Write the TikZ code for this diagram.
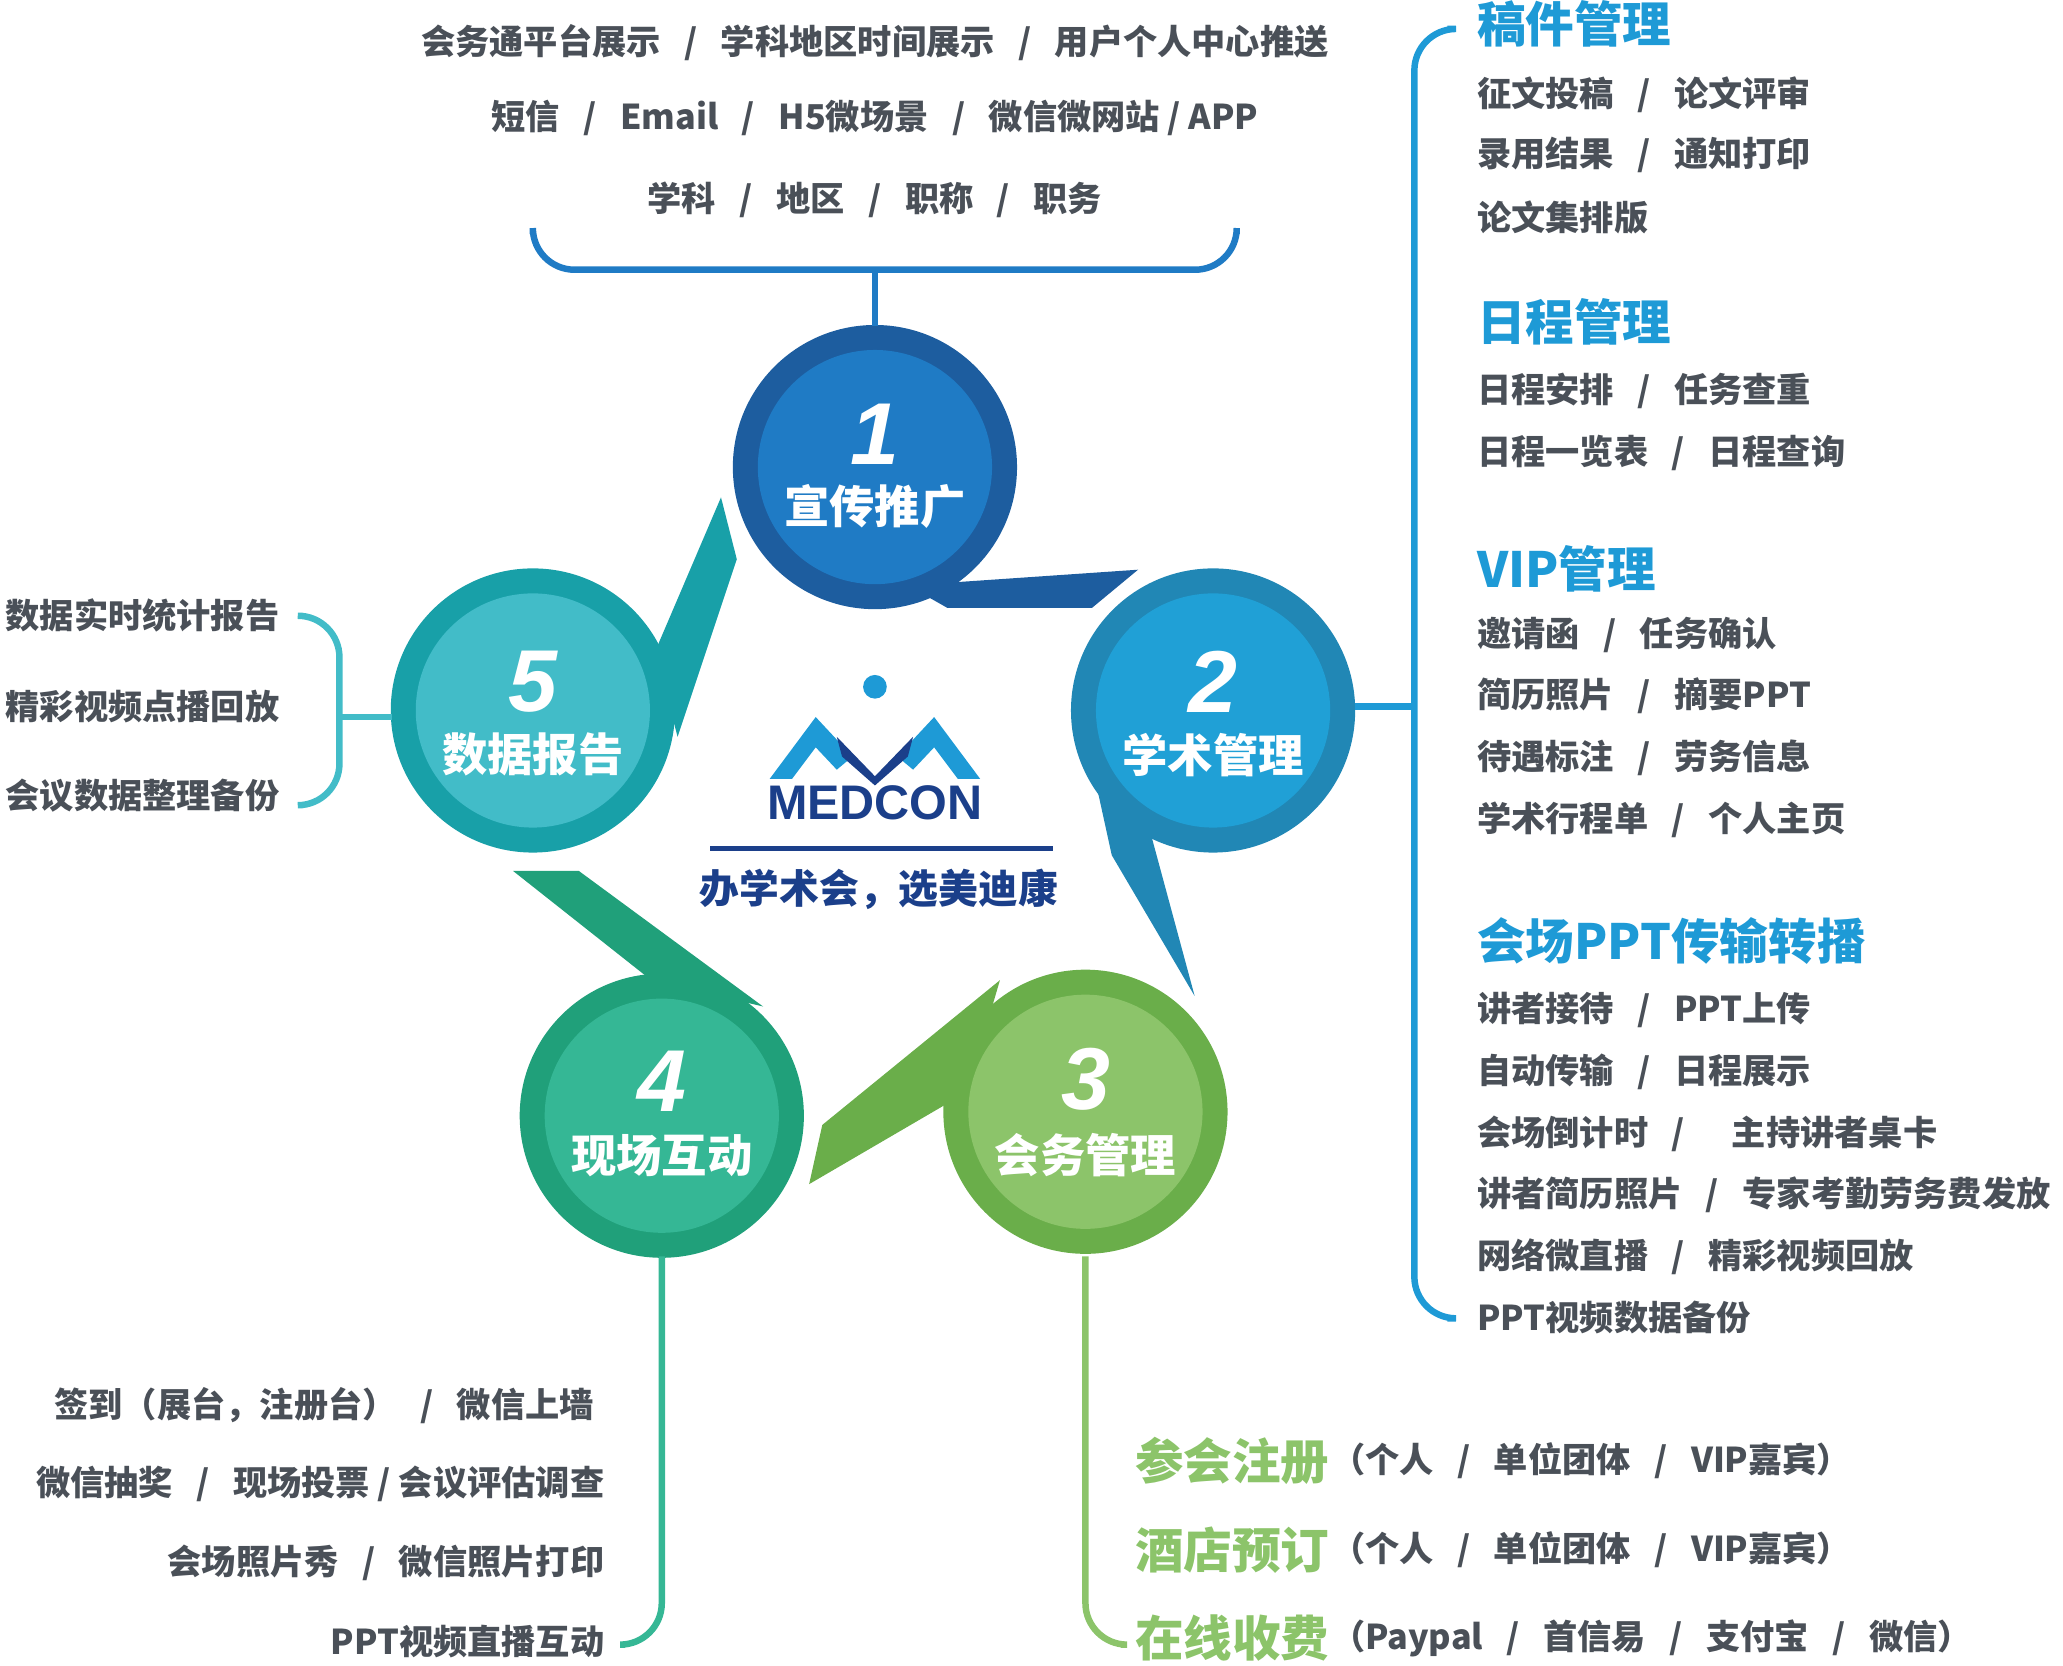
\documentclass[tikz,border=0pt]{standalone}
\usepackage{fontspec}
\setmainfont{Noto Sans CJK SC}
\newfontfamily\numfont{Liberation Sans}
\usetikzlibrary{positioning}
\definecolor{textgray}{HTML}{4A5058}
\definecolor{navy}{HTML}{1B3F8A}
\definecolor{oneout}{HTML}{1D5D9F}\definecolor{onein}{HTML}{1F7BC5}
\definecolor{twoout}{HTML}{2187B5}\definecolor{twoin}{HTML}{20A0D6}
\definecolor{threeout}{HTML}{6AAE4A}\definecolor{threein}{HTML}{8CC46A}
\definecolor{fourout}{HTML}{20A07A}\definecolor{fourin}{HTML}{35B795}
\definecolor{fiveout}{HTML}{18A0A8}\definecolor{fivein}{HTML}{42BCC8}
\definecolor{brace}{HTML}{1E9AD6}
\newcommand\sep{\ \ \ /\ \ \ }
\tikzset{
  item/.style={text=textgray,font=\fontsize{7.4}{9}\selectfont\bfseries,inner sep=0pt},
  head/.style={text=brace,font=\fontsize{10.5}{12}\selectfont\bfseries,inner sep=0pt,anchor=west},
  greenhead/.style={text=threein,font=\fontsize{10.5}{12}\selectfont\bfseries,inner sep=0pt,anchor=west},
  title/.style={text=white,font=\fontsize{9.8}{11}\selectfont\bfseries,inner sep=0pt},
  number/.style={text=white,font=\fontsize{19}{20}\selectfont\numfont\bfseries\itshape,inner sep=0pt},
  bracket/.style={line width=1.4pt,rounded corners=9pt},
}
\begin{document}
\begin{tikzpicture}[x=0.1mm,y=-0.1mm]
  \useasboundingbox (0,0) rectangle (1568,1266);
  % tails
  \fill[oneout] (690,445) -- (865,433) -- (830,462) -- (720,462) -- cycle;
  \fill[twoout] (822,545) -- (875,635) -- (908,757) -- (845,650) -- cycle;
  \fill[threeout] (760,745) -- (625,855) -- (615,900) -- (735,830) -- cycle;
  \fill[fourout] (390,662) -- (440,662) -- (580,765) -- (495,745) -- cycle;
  \fill[fiveout] (498,495) -- (548,378) -- (560,425) -- (515,560) -- cycle;
  % circles
  \foreach \n/\cx/\cy/\co/\ci in {one/665/355/oneout/onein, two/922/540/twoout/twoin,
      three/825/845/threeout/threein, four/503/848/fourout/fourin, five/405/540/fiveout/fivein}{
    \fill[\co] (\cx,\cy) circle (108);
    \fill[\ci] (\cx,\cy) circle (89);
    \coordinate (\n) at (\cx,\cy);
  }
  \node[number] (n1) at (665,330) {1};
  \node[title] (t1) at (665,385) {宣传推广};
  \node[number] (n2) at (922,518) {2};
  \node[title] (t2) at (922,574) {学术管理};
  \node[number] (n3) at (825,820) {3};
  \node[title] (t3) at (825,878) {会务管理};
  \node[number] (n4) at (503,822) {4};
  \node[title] (t4) at (503,878) {现场互动};
  \node[number] (n5) at (405,518) {5};
  \node[title] (t5) at (405,573) {数据报告};
  % logo
  \fill[brace] (665,522) circle (9);
  \fill[brace] (585,592) -- (620,545) -- (648,575) -- (636,585) -- (620,568) -- (602,592) -- cycle;
  \fill[brace] (745,592) -- (710,545) -- (682,575) -- (694,585) -- (710,568) -- (728,592) -- cycle;
  \fill[navy] (636,560) -- (665,590) -- (694,560) -- (690,575) -- (665,597) -- (640,575) -- cycle;
  \node[text=navy,font=\fontsize{10.5}{12}\selectfont\numfont\bfseries,inner sep=0pt] (logo) at (665,610) {MEDCON};
  \draw[navy,line width=1.2pt] (540,645) -- (800,645);
  \node[text=navy,font=\fontsize{8.6}{10}\selectfont\bfseries,inner sep=0pt] (slogan) at (668,676) {办学术会，选美迪康};
  % top brace
  \draw[onein,bracket] (405,178) -- (405,205) -- (940,205) -- (940,178);
  \draw[onein,line width=1.4pt] (665,205) -- (665,248);
  \node[item] (a1) at (665,32) {会务通平台展示\sep 学科地区时间展示\sep 用户个人中心推送};
  \node[item] (a2) at (665,90) {短信\sep Email\sep H5微场景\sep 微信微网站 / APP};
  \node[item] (a3) at (665,152) {学科\sep 地区\sep 职称\sep 职务};
  % right brace
  \draw[brace,bracket] (1100,22) -- (1075,22) -- (1075,1002) -- (1100,1002);
  \draw[brace,line width=1.4pt] (1030,537) -- (1075,537);
  \node[head] (h1) at (1122,18) {稿件管理};
  \foreach \y/\t in {72/{征文投稿\sep 论文评审}, 118/{录用结果\sep 通知打印}, 165/{论文集排版}}
    \node[item,anchor=west] at (1122,\y) {\t};
  \node[head] (h2) at (1122,245) {日程管理};
  \foreach \y/\t in {297/{日程安排\sep 任务查重}, 344/{日程一览表\sep 日程查询}}
    \node[item,anchor=west] at (1122,\y) {\t};
  \node[head] (h3) at (1122,432) {VIP管理};
  \foreach \y/\t in {483/{邀请函\sep 任务确认}, 529/{简历照片\sep 摘要PPT}, 576/{待遇标注\sep 劳务信息}, 623/{学术行程单\sep 个人主页}}
    \node[item,anchor=west] at (1122,\y) {\t};
  \node[head] (h4) at (1122,715) {会场PPT传输转播};
  \foreach \y/\t in {768/{讲者接待\sep PPT上传}, 815/{自动传输\sep 日程展示}, 862/{会场倒计时\sep \ \ \ 主持讲者桌卡},
      908/{讲者简历照片\sep 专家考勤劳务费发放}, 955/{网络微直播\sep 精彩视频回放}, 1001/{PPT视频数据备份}}
    \node[item,anchor=west] at (1122,\y) {\t};
  % left brace
  \draw[fivein,bracket] (230,468) -- (258,468) -- (258,612) -- (230,612);
  \draw[fivein,line width=1.4pt] (298,545) -- (258,545);
  \foreach \y/\t in {468/数据实时统计报告, 537/精彩视频点播回放, 605/会议数据整理备份}
    \node[item,anchor=east] at (213,\y) {\t};
  % bottom left
  \draw[fourin,bracket] (503,955) -- (503,1250) -- (475,1250);
  \node[item,anchor=east] (d1) at (452,1068) {签到（展台，注册台）\sep 微信上墙};
  \node[item,anchor=east] (d2) at (460,1128) {微信抽奖\sep 现场投票 / 会议评估调查};
  \node[item,anchor=east] (d3) at (460,1188) {会场照片秀\sep 微信照片打印};
  \node[item,anchor=east] (d4) at (460,1248) {PPT视频直播互动};
  % bottom right
  \draw[threein,bracket] (825,955) -- (825,1250) -- (852,1250);
  \node[greenhead] (g1) at (862,1110) {参会注册};
  \node[item,anchor=west] at (g1.east) {（个人\sep 单位团体\sep VIP嘉宾）};
  \node[greenhead] (g2) at (862,1178) {酒店预订};
  \node[item,anchor=west] at (g2.east) {（个人\sep 单位团体\sep VIP嘉宾）};
  \node[greenhead] (g3) at (862,1245) {在线收费};
  \node[item,anchor=west] at (g3.east) {（Paypal\sep 首信易\sep 支付宝\sep 微信）};
\end{tikzpicture}
\end{document}
